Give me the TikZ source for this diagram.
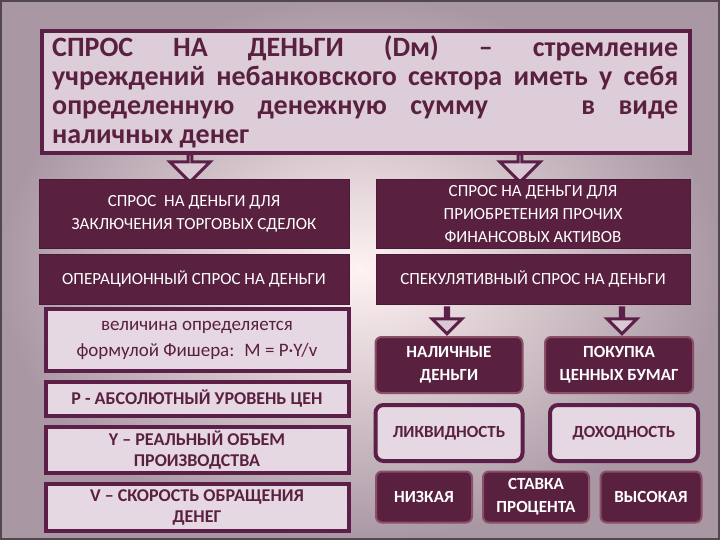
\documentclass[tikz,border=0pt]{standalone}
\usepackage{fontspec}
\setmainfont{Carlito}
\usetikzlibrary{shapes.arrows}
\definecolor{dk}{HTML}{5A2040}
\definecolor{bd}{HTML}{5C1F47}
\definecolor{lt}{HTML}{E6D8E2}
\definecolor{bg}{HTML}{C7B3C1}
\tikzset{
  darkbox/.style={draw=bd!80!black,line width=1pt,fill=dk,text=white,align=center,font=\fontsize{17}{23}\selectfont,inner sep=0pt},
  lightbox/.style={draw=bd,line width=4pt,fill=lt,text=dk,align=center,font=\bfseries\fontsize{18}{21}\selectfont,inner sep=0pt},
  rdark/.style={darkbox,rounded corners=6pt,line width=2pt,draw=dk!70!pink,font=\bfseries\fontsize{17}{23}\selectfont},
  rlight/.style={lightbox,rounded corners=8pt},
  downarr/.style={draw=bd,line width=3pt,fill=lt!60!bg,single arrow,shape border rotate=270,minimum width=40pt,single arrow head extend=14pt,single arrow head indent=0pt,minimum height=28pt,inner sep=0pt},
}
\newcommand{\tline}[1]{\makebox[626pt][s]{#1}}
\begin{document}
\begin{tikzpicture}[x=1pt,y=-1pt]
\useasboundingbox (0,0) rectangle (720,540);
\shade[inner color=white!80!pink,outer color=bg!85!black] (0,0) rectangle (720,540);
\draw[bg!40!black,line width=1.5pt] (1,1) rectangle (719,539);
% title
\node[draw=bd,line width=4pt,fill=lt!70!bg,minimum width=648pt,minimum height=122pt,inner sep=0pt] (t) at (366,92) {};
\node[text=dk,font=\bfseries\fontsize{28}{29}\selectfont,align=left,anchor=north west,inner sep=0pt] (tt) at (52,36)
 {\tline{СПРОС НА ДЕНЬГИ (D\textsc{м}) – стремление}\\
  \tline{учреждений небанковского сектора иметь у себя}\\
  \tline{определенную денежную сумму \ \ \ в виде}\\
  наличных денег};
\node[downarr] (a1) at (190,167) {};
\node[downarr] (a2) at (520,167) {};
\node[darkbox,minimum width=310pt,minimum height=68pt] (b1) at (194,214) {СПРОС \ НА ДЕНЬГИ ДЛЯ\\ЗАКЛЮЧЕНИЯ ТОРГОВЫХ СДЕЛОК};
\node[darkbox,minimum width=314pt,minimum height=68pt] (b2) at (533,214) {СПРОС НА ДЕНЬГИ ДЛЯ\\ПРИОБРЕТЕНИЯ ПРОЧИХ\\ФИНАНСОВЫХ АКТИВОВ};
\node[darkbox,minimum width=310pt,minimum height=50pt] (c1) at (194,279) {ОПЕРАЦИОННЫЙ СПРОС НА ДЕНЬГИ};
\node[darkbox,minimum width=314pt,minimum height=50pt] (c2) at (533,279) {СПЕКУЛЯТИВНЫЙ СПРОС НА ДЕНЬГИ};
% left column
\node[lightbox,font=\fontsize{19}{26}\selectfont,minimum width=303pt,minimum height=62pt] (f) at (197,340) {величина определяется\\формулой Фишера: \ M = P·Y/v};
\node[lightbox,minimum width=303pt,minimum height=34pt] (p) at (197,399) {P - АБСОЛЮТНЫЙ УРОВЕНЬ ЦЕН};
\node[lightbox,minimum width=303pt,minimum height=46pt] (y) at (197,450) {Y – РЕАЛЬНЫЙ ОБЪЕМ\\ПРОИЗВОДСТВА};
\node[lightbox,minimum width=303pt,minimum height=47pt] (v) at (197,507) {V – СКОРОСТЬ ОБРАЩЕНИЯ\\ДЕНЕГ};
% right column
\node[downarr,minimum width=30pt,minimum height=26pt,single arrow head extend=12pt] (a3) at (447,320) {};
\node[downarr,minimum width=30pt,minimum height=26pt,single arrow head extend=12pt] (a4) at (622,320) {};
\node[rdark,minimum width=147pt,minimum height=56pt] (n) at (449,365) {НАЛИЧНЫЕ\\ДЕНЬГИ};
\node[rdark,minimum width=148pt,minimum height=56pt] (k) at (619,365) {ПОКУПКА\\ЦЕННЫХ БУМАГ};
\node[rlight,font=\bfseries\fontsize{17}{20}\selectfont,minimum width=147pt,minimum height=56pt] (l) at (449,433) {ЛИКВИДНОСТЬ};
\node[rlight,font=\bfseries\fontsize{17}{20}\selectfont,minimum width=148pt,minimum height=56pt] (d) at (624,433) {ДОХОДНОСТЬ};
\node[rdark,minimum width=96pt,minimum height=51pt] (lo) at (424,497) {НИЗКАЯ};
\node[rdark,minimum width=106pt,minimum height=51pt] (s) at (536,497) {СТАВКА\\ПРОЦЕНТА};
\node[rdark,minimum width=101pt,minimum height=51pt] (hi) at (651,497) {ВЫСОКАЯ};
\end{tikzpicture}
\end{document}
